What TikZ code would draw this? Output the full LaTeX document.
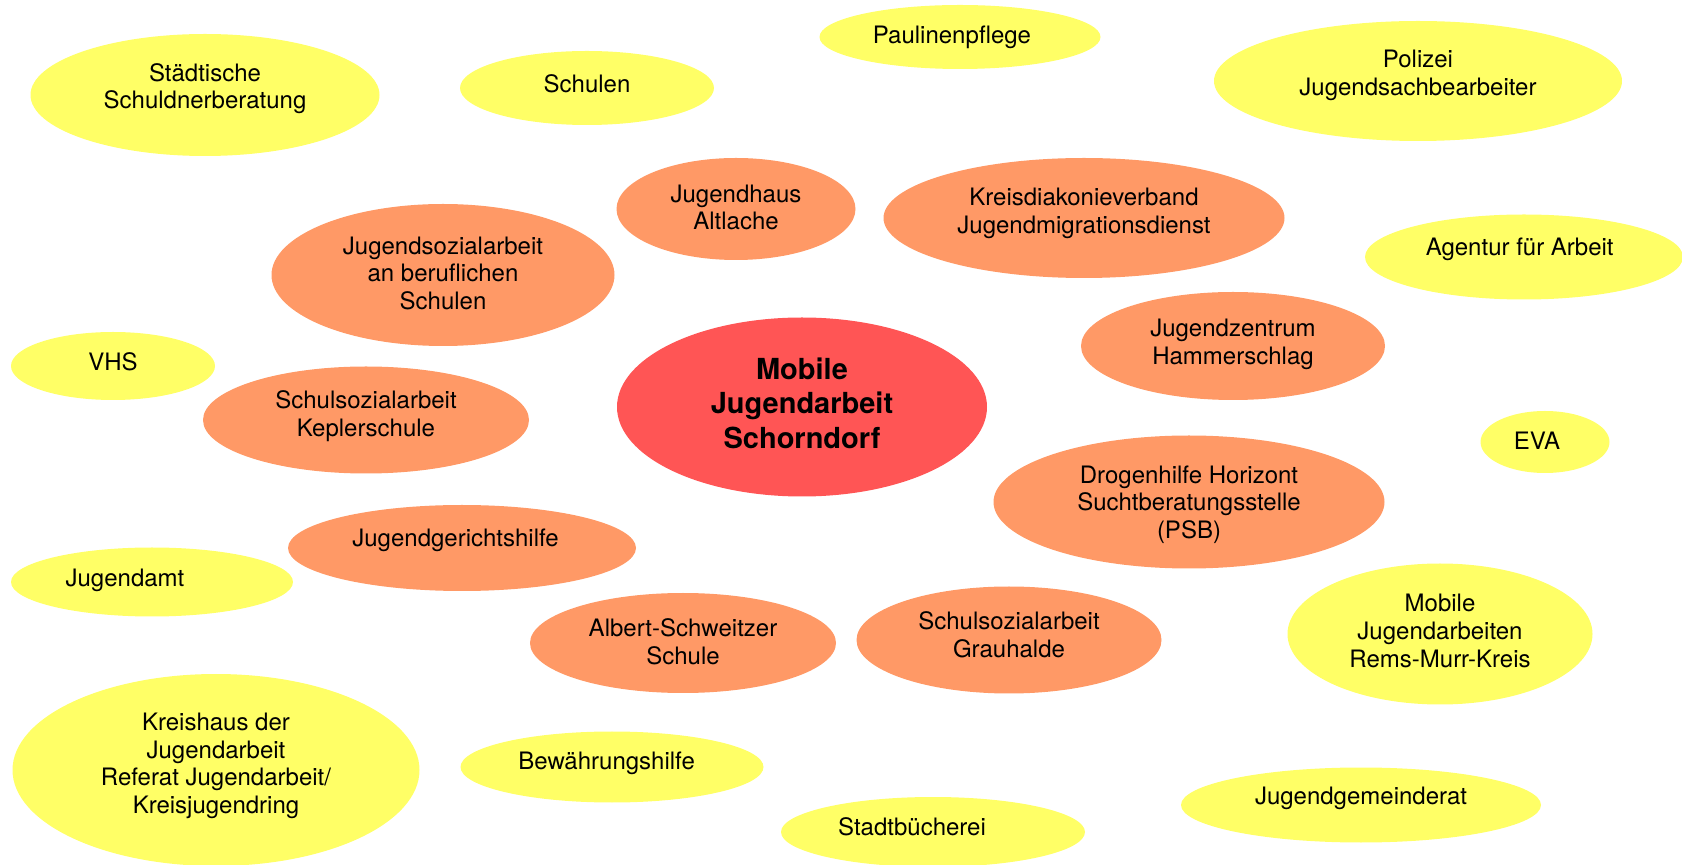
\documentclass[tikz,border=0pt]{standalone}
\usepackage{fontspec}
\setmainfont{TeX Gyre Heros}
\usetikzlibrary{shapes.geometric}
\definecolor{hellgelb}{HTML}{FFFF66}
\definecolor{lachs}{HTML}{FF9966}
\definecolor{hellrot}{HTML}{FF5555}
% unsichtbare Stuetzen, um den Text im Oval zu verschieben
\newcommand\tief[1]{\rule[-#1]{0pt}{#1}}
\newcommand\hoch[1]{\rule{0pt}{#1}}

\begin{document}
\begin{tikzpicture}[x=0.5pt, y=-0.5pt,
  every node/.style={ellipse, inner sep=0pt, align=center, font=\fontsize{12}{13.8}\selectfont},
  ellsize/.style 2 args={minimum width=#1*0.5pt, minimum height=#2*0.5pt},
  extern/.style={fill=hellgelb},
  intern/.style={fill=lachs},
  zentrum/.style={fill=hellrot, font=\fontsize{14.5}{17.2}\selectfont\bfseries}]
\useasboundingbox (0,0) rectangle (1682,865);
% Mitte
\node [zentrum, ellsize={370}{179}] (mja) at (802,407) {Mobile\\Jugendarbeit\\Schorndorf\tief{3.8pt}};
% innerer Kreis
\node [intern, ellsize={239}{102}] (jugendhaus) at (736,209) {Jugendhaus\\Altlache\tief{1.6pt}};
\node [intern, ellsize={401}{120}] (diakonie) at (1084,218) {Kreisdiakonieverband\\Jugendmigrationsdienst\tief{7.4pt}};
\node [intern, ellsize={343}{142}] (jsa) at (443,275) {Jugendsozialarbeit\\an beruflichen\\Schulen\tief{2.1pt}};
\node [intern, ellsize={304}{108}] (juz) at (1233,346) {Jugendzentrum\\Hammerschlag\tief{4.2pt}};
\node [intern, ellsize={326}{107}] (kepler) at (366,420) {Schulsozialarbeit\\Keplerschule\tief{6.4pt}};
\node [intern, ellsize={391}{133}] (drogen) at (1189,502) {\hoch{11.4pt}Drogenhilfe Horizont\\Suchtberatungsstelle\\(PSB)};
\node [intern, ellsize={348}{86}] (jgh) at (462,548) {Jugendgerichtshilfe\kern6.4pt\tief{10.1pt}};
\node [intern, ellsize={306}{100}] (asschule) at (683,643) {Albert-Schweitzer\\Schule\tief{1.6pt}};
\node [intern, ellsize={305}{107}] (grauhalde) at (1009,640) {Schulsozialarbeit\\Grauhalde\tief{5.4pt}};
% aeusserer Kreis
\node [extern, ellsize={349}{122}] (schuldner) at (205,95) {Städtische\\Schuldnerberatung\tief{9pt}};
\node [extern, ellsize={254}{74}] (schulen) at (587,88) {Schulen\tief{4.3pt}};
\node [extern, ellsize={281}{64}] (pauline) at (960,37) {Paulinenpflege\kern8pt};
\node [extern, ellsize={408}{120}] (polizei) at (1418,81) {Polizei\\Jugendsachbearbeiter\tief{8pt}};
\node [extern, ellsize={318}{85}] (agentur) at (1524,257) {Agentur für Arbeit\kern4.3pt\tief{10.1pt}};
\node [extern, ellsize={204}{68}] (vhs) at (113,366) {VHS\tief{4.3pt}};
\node [extern, ellsize={129}{62}] (eva) at (1545,442) {EVA\kern8pt\tief{1.1pt}};
\node [extern, ellsize={282}{69}] (jugendamt) at (152,582) {Jugendamt\kern27pt\tief{4.7pt}};
\node [extern, ellsize={305}{141}] (rmk) at (1440,634) {Mobile\\Jugendarbeiten\\Rems-Murr-Kreis\tief{3.2pt}};
\node [extern, ellsize={407}{192}] (kreishaus) at (216,770) {Kreishaus der\\Jugendarbeit\\Referat Jugendarbeit/\\Kreisjugendring\tief{6.9pt}};
\node [extern, ellsize={303}{71}] (bewaehrung) at (612,767) {Bewährungshilfe\kern5.4pt\tief{5.8pt}};
\node [extern, ellsize={304}{70}] (buecherei) at (933,832) {Stadtbücherei\kern21pt\tief{5.4pt}};
\node [extern, ellsize={360}{75}] (jgr) at (1361,805) {Jugendgemeinderat\tief{9pt}};
\end{tikzpicture}
\end{document}
